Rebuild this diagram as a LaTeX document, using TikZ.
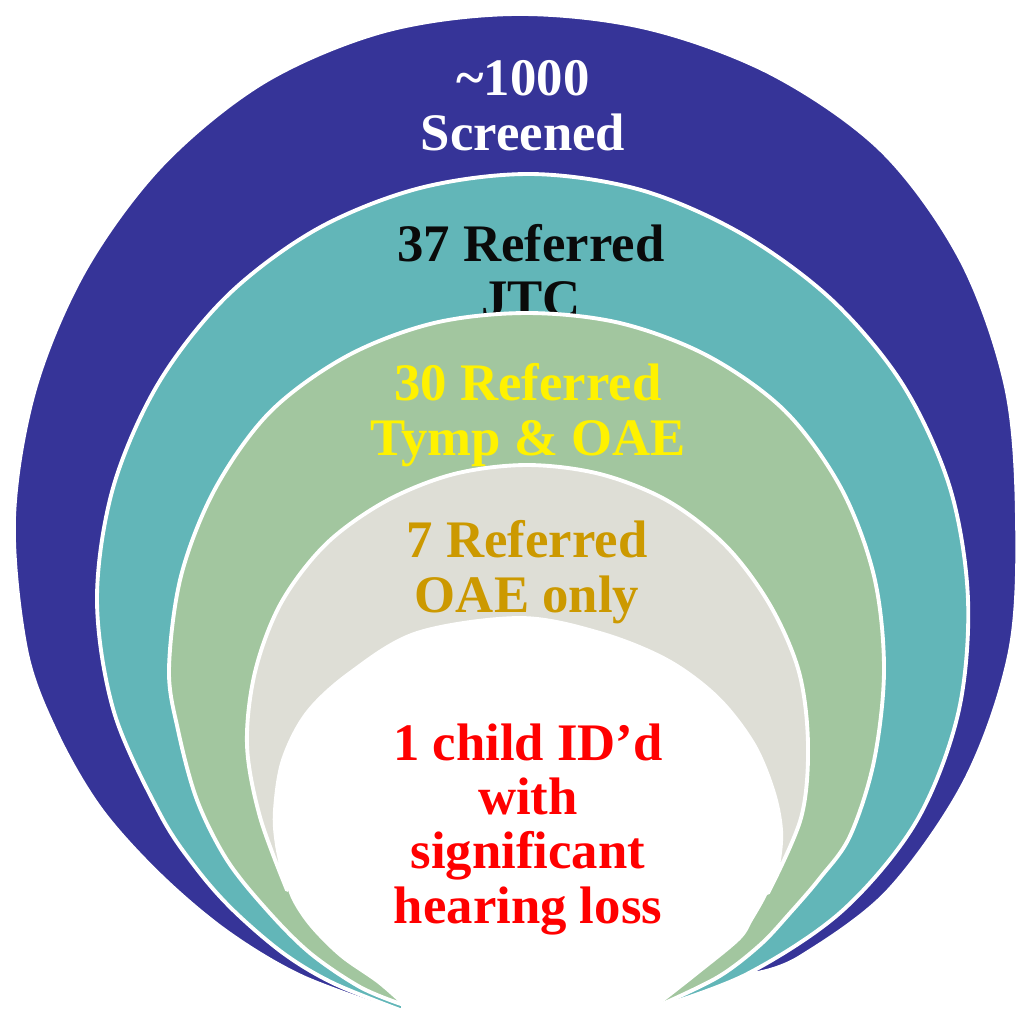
\documentclass[tikz,border=0pt]{standalone}
\usepackage{fontspec}
\setmainfont{Liberation Serif}
\definecolor{ringnavy}{RGB}{54,52,152}
\definecolor{ringteal}{RGB}{98,182,184}
\definecolor{ringgreen}{RGB}{162,198,159}
\definecolor{ringgray}{RGB}{222,222,214}
\definecolor{txtgold}{RGB}{204,153,0}
\definecolor{txtblack}{RGB}{10,10,10}
\tikzset{
  ring/.style={draw=white,line width=1.1pt,line join=round},
  lbl/.style={font=\fontsize{15}{15.4}\selectfont\bfseries,align=center,inner sep=0pt,anchor=base}
}
\begin{document}
\begin{tikzpicture}[x=0.01cm,y=-0.01cm]
    \useasboundingbox (0,0) rectangle (1016,1011);

    \filldraw[ring,fill=ringnavy] plot[smooth,tension=0.55] coordinates {
        (396,1011) (301,976) (226,931) (159,874) (100,808) (56,732) (26,649)
        (14,518) (35,389) (85,270) (162,165) (264,82) (385,31) (515,14)
        (646,28) (772,74) (882,151) (961,260) (1006,387) (1017,518) (1010,651)
        (966,779) (888,891) (800,957) (757,973)} -- cycle;
    \node[lbl,text=white] (screened) at (523,150) {\textasciitilde1000\\Screened};

    \filldraw[ring,fill=ringteal] plot[smooth,tension=0.55] coordinates {
        (400,1010) (333,983) (283,953) (233,910) (196,868) (160,814) (114,712)
        (97,600) (113,488) (158,384) (227,296) (317,229) (420,188) (531,174)
        (641,190) (742,234) (832,300) (903,385) (950,488) (968,600) (958,714)
        (916,822) (842,911) (747,974) (656,1008)} -- cycle;
    \node[lbl,text=txtblack] (jtc) at (531,316) {37 Referred\\JTC};

    \filldraw[ring,fill=ringgreen] plot[smooth,tension=0.55] coordinates {
        (401,1004) (360,987) (310,953) (267,910) (227,860) (197,800) (178,730)
        (169,669) (181,576) (215,489) (270,412) (347,356) (434,323) (527,313)
        (620,323) (708,356) (785,411) (841,488) (874,576) (884,669) (874,761)
        (850,836) (820,878) (790,913) (760,945) (718,977) (658,1006)} -- cycle;
    \node[lbl,text=yellow] (tymp) at (528,455) {30 Referred\\Tymp \& OAE};

    \filldraw[ring,fill=ringgray] plot[smooth,tension=0.55] coordinates {
        (287,890) (260,817) (247,745) (255,672) (281,603) (326,544) (386,501)
        (454,474) (527,465) (600,474) (668,501) (726,546) (770,605) (799,672)
        (808,745) (801,818) (768,893)}
      -- plot[smooth,tension=0.55] coordinates {
        (768,893) (778,865) (781,830) (773,790) (753,743) (717,697) (667,660)
        (600,633) (520,618) (417,633) (350,673) (307,713) (283,760) (275,810)
        (277,845) (287,890)} -- cycle;
    \node[lbl,text=txtgold] (oae) at (527,612) {7 Referred\\OAE only};

    \fill[white] plot[smooth,tension=0.55] coordinates {
        (401,1004) (377,983) (340,957) (310,927) (292,900) (284,875) (277,845)
        (275,810) (283,760) (307,713) (350,673) (417,633) (520,618) (600,633)
        (667,660) (717,697) (753,743) (773,790) (781,830) (778,865) (768,893)
        (753,920) (740,940) (700,973) (658,1006)} -- (658,1030) -- (401,1030) -- cycle;
    \node[lbl,text=red] (hearing) at (528,923) {1 child ID’d\\with\\significant\\hearing loss};
\end{tikzpicture}
\end{document}
